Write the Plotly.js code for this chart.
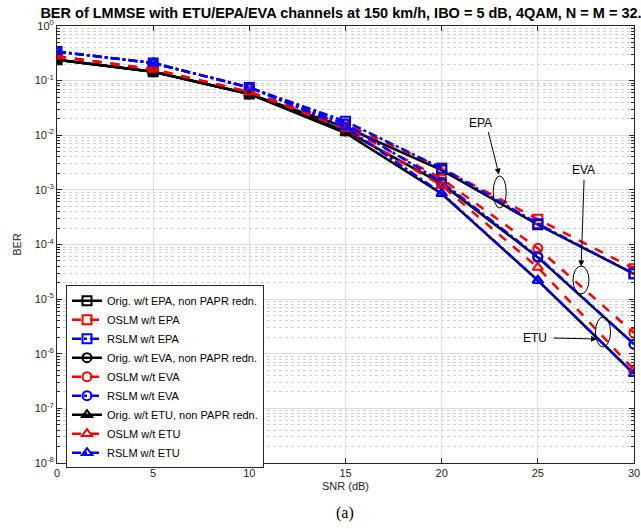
<!DOCTYPE html>
<html>
<head>
<meta charset="utf-8">
<script src="https://cdn.plot.ly/plotly-3.0.1.min.js"></script>
<style>html,body{margin:0;padding:0;background:#fff;}#chart{width:641px;height:529px;}</style>
</head>
<body>
<div id="chart"></div>
<script>
const snr = [0, 5, 10, 15, 20, 25, 30];

const origEPA = [0.24, 0.145, 0.057, 0.014, 2.3e-3, 2.3e-4, 2.9e-5];
const oslmEPA = [0.28, 0.16, 0.062, 0.016, 2.5e-3, 2.9e-4, 3.6e-5];
const rslmEPA = [0.34, 0.21, 0.075, 0.018, 2.5e-3, 2.4e-4, 2.9e-5];

const origEVA = [0.24, 0.145, 0.057, 0.012, 1.3e-3, 5.8e-5, 1.5e-6];
const oslmEVA = [0.28, 0.16, 0.062, 0.014, 1.6e-3, 8.5e-5, 2.4e-6];
const rslmEVA = [0.34, 0.21, 0.075, 0.016, 1.4e-3, 6.0e-5, 1.5e-6];

const origETU = [0.24, 0.145, 0.057, 0.011, 8.5e-4, 2.2e-5, 4.3e-7];
const oslmETU = [0.28, 0.16, 0.062, 0.013, 1.2e-3, 3.8e-5, 5.1e-7];
const rslmETU = [0.34, 0.21, 0.075, 0.014, 8.7e-4, 2.2e-5, 4.3e-7];

const yTickVals = [1, 1e-1, 1e-2, 1e-3, 1e-4, 1e-5, 1e-6, 1e-7, 1e-8];
const yTickText = ['10<sup>0</sup>', '10<sup>-1</sup>', '10<sup>-2</sup>', '10<sup>-3</sup>',
  '10<sup>-4</sup>', '10<sup>-5</sup>', '10<sup>-6</sup>', '10<sup>-7</sup>', '10<sup>-8</sup>'];
const xTickVals = [0, 5, 10, 15, 20, 25, 30];

const names = [
  'Orig. w/t EPA, non PAPR redn.', 'OSLM w/t EPA', 'RSLM w/t EPA',
  'Orig. w/t EVA, non PAPR redn.', 'OSLM w/t EVA', 'RSLM w/t EVA',
  'Orig. w/t ETU, non PAPR redn.', 'OSLM w/t ETU', 'RSLM w/t ETU'
];
const series = [origEPA, oslmEPA, rslmEPA, origEVA, oslmEVA, rslmEVA, origETU, oslmETU, rslmETU];
const symbols = ['square-open', 'square-open', 'square-open', 'circle-open', 'circle-open', 'circle-open',
  'triangle-up-open', 'triangle-up-open', 'triangle-up-open'];
const colors = ['#000000', '#ff0000', '#0000ff'];
const dashes = ['solid', 'dash', 'dashdot'];

const traces = series.map((ys, i) => ({
  x: snr, y: ys, name: names[i], type: 'scatter', mode: 'lines+markers',
  line: {color: colors[i % 3], width: 2.5, dash: dashes[i % 3]},
  marker: {symbol: symbols[i], size: 9, color: colors[i % 3], line: {color: colors[i % 3], width: 2}}
}));

const axisCommon = {
  showline: true, linecolor: '#262626', linewidth: 1, mirror: 'ticks',
  ticks: 'inside', ticklen: 5, tickcolor: '#262626',
  tickfont: {family: 'Liberation Sans, Arial, sans-serif', size: 11, color: '#262626'},
  showgrid: true, gridcolor: '#dcdcdc', gridwidth: 1, zeroline: false
};

const layout = {
  width: 641, height: 529,
  margin: {l: 57, r: 7, t: 26, b: 66},
  paper_bgcolor: '#ffffff', plot_bgcolor: '#ffffff',
  title: {text: '<b>BER of LMMSE with ETU/EPA/EVA channels at 150 km/h, IBO = 5 dB, 4QAM, N = M = 32.</b>',
    font: {family: 'Liberation Sans, Arial, sans-serif', size: 14.5, color: '#000'},
    x: 0.532, xanchor: 'center', y: 0.975, yanchor: 'middle'},
  xaxis: Object.assign({}, axisCommon, {
    range: [0, 30], tickvals: xTickVals,
    title: {text: 'SNR (dB)', font: {family: 'Liberation Sans, Arial, sans-serif', size: 11, color: '#262626'}, standoff: 4}
  }),
  yaxis: Object.assign({}, axisCommon, {
    type: 'log', range: [-8, 0], tickvals: yTickVals, ticktext: yTickText,
    minor: {dtick: 'D1', showgrid: true, gridcolor: '#d0d0d0', griddash: 'dot', ticks: 'inside', ticklen: 3, tickcolor: '#262626'},
    title: {text: 'BER', font: {family: 'Liberation Sans, Arial, sans-serif', size: 11, color: '#262626'}, standoff: 10}
  }),
  legend: {
    x: 0.0156, y: 0.407, xanchor: 'left', yanchor: 'top',
    bgcolor: '#ffffff', bordercolor: '#262626', borderwidth: 1,
    font: {family: 'Liberation Sans, Arial, sans-serif', size: 11, color: '#000'},
    tracegroupgap: 0, itemwidth: 30
  },
  showlegend: true,
  annotations: [
    {x: 14.95, y: 0, xref: 'x', yref: 'paper', yshift: -50, text: '(a)', showarrow: false,
      font: {family: 'Liberation Serif, Times New Roman, serif', size: 16, color: '#000'}, yanchor: 'middle'},
    {x: 22.0, y: -1.78, xref: 'x', yref: 'y', text: 'EPA', showarrow: false,
      font: {family: 'Liberation Sans, Arial, sans-serif', size: 12, color: '#000'}},
    {x: 22.98, y: -2.72, xref: 'x', yref: 'y', text: '', showarrow: true, arrowhead: 2, arrowsize: 1.2,
      arrowwidth: 1, arrowcolor: '#000', ax: -11, ay: -44},
    {x: 27.38, y: -2.64, xref: 'x', yref: 'y', text: 'EVA', showarrow: false,
      font: {family: 'Liberation Sans, Arial, sans-serif', size: 12, color: '#000'}},
    {x: 27.25, y: -4.40, xref: 'x', yref: 'y', text: '', showarrow: true, arrowhead: 2, arrowsize: 1.2,
      arrowwidth: 1, arrowcolor: '#000', ax: 3, ay: -88},
    {x: 24.86, y: -5.71, xref: 'x', yref: 'y', text: 'ETU', showarrow: false,
      font: {family: 'Liberation Sans, Arial, sans-serif', size: 12, color: '#000'}},
    {x: 28.08, y: -5.73, xref: 'x', yref: 'y', text: '', showarrow: true, arrowhead: 2, arrowsize: 1.2,
      arrowwidth: 1, arrowcolor: '#000', ax: -45, ay: -1}
  ],
  shapes: [
    {type: 'circle', xref: 'paper', yref: 'paper', x0: 0.756, x1: 0.7785, y0: 0.5835, y1: 0.6568,
      line: {color: '#000', width: 1}},
    {type: 'circle', xref: 'paper', yref: 'paper', x0: 0.8943, x1: 0.922, y0: 0.3867, y1: 0.4508,
      line: {color: '#000', width: 1}},
    {type: 'circle', xref: 'paper', yref: 'paper', x0: 0.9333, x1: 0.9593, y0: 0.2654, y1: 0.3341,
      line: {color: '#000', width: 1}}
  ]
};

Plotly.newPlot('chart', traces, layout, {displayModeBar: false, staticPlot: true});
</script>
</body>
</html>
